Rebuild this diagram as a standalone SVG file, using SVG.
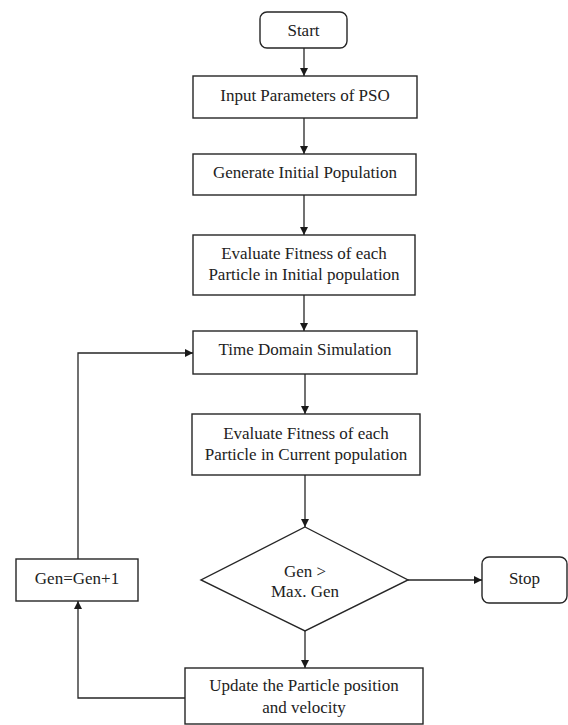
<svg xmlns="http://www.w3.org/2000/svg" width="568" height="725" viewBox="0 0 568 725">
<style>
.box{fill:#fff;stroke:#262626;stroke-width:1.4}
.ln{fill:none;stroke:#262626;stroke-width:1.3}
text{font-family:'Liberation Serif',serif;font-size:17px;fill:#222;text-anchor:middle}
</style>
<defs>
<marker id="ah" viewBox="0 0 10 10" refX="10" refY="5" markerWidth="8" markerHeight="8" markerUnits="userSpaceOnUse" orient="auto">
<path d="M0,0 L10,5 L0,10 z" fill="#1a1a1a"/>
</marker>
</defs>
<rect width="568" height="725" fill="#fff"/>
<g id="start"><rect class="box" x="260" y="12" width="87" height="36" rx="7"/><text x="303.5" y="36">Start</text></g>
<g id="input"><rect class="box" x="193" y="76" width="224" height="42"/><text x="305" y="101">Input Parameters of PSO</text></g>
<g id="generate"><rect class="box" x="193" y="154" width="223" height="41"/><text x="305" y="178">Generate Initial Population</text></g>
<g id="evalInit"><rect class="box" x="193" y="235" width="222" height="60"/><text x="304" y="259">Evaluate Fitness of each</text><text x="304" y="280">Particle in Initial population</text></g>
<g id="timeDomain"><rect class="box" x="193" y="331" width="224" height="43"/><text x="305" y="355">Time Domain Simulation</text></g>
<g id="evalCur"><rect class="box" x="192" y="414" width="228" height="61"/><text x="306" y="439">Evaluate Fitness of each</text><text x="306" y="460">Particle in Current population</text></g>
<g id="decision"><polygon class="box" points="305,527 408,580 305,631 201,580"/><text x="305" y="577">Gen &gt;</text><text x="305" y="597">Max. Gen</text></g>
<g id="stop"><rect class="box" x="482" y="557" width="85" height="46" rx="7"/><text x="524.5" y="584">Stop</text></g>
<g id="genInc"><rect class="box" x="16" y="559" width="122" height="42"/><text x="77" y="584">Gen=Gen+1</text></g>
<g id="update"><rect class="box" x="185" y="668" width="238" height="56"/><text x="304" y="691">Update the Particle position</text><text x="304" y="713">and velocity</text></g>
<g id="connectors">
<path class="ln" d="M304,48 V76" marker-end="url(#ah)"/>
<path class="ln" d="M304,118 V154" marker-end="url(#ah)"/>
<path class="ln" d="M304,195 V235" marker-end="url(#ah)"/>
<path class="ln" d="M304,295 V331" marker-end="url(#ah)"/>
<path class="ln" d="M305,374 V414" marker-end="url(#ah)"/>
<path class="ln" d="M305,475 V527" marker-end="url(#ah)"/>
<path class="ln" d="M305,631 V668" marker-end="url(#ah)"/>
<path class="ln" d="M408,580 H482" marker-end="url(#ah)"/>
<path class="ln" d="M185,698 H78 V601" marker-end="url(#ah)"/>
<path class="ln" d="M78,559 V353 H193" marker-end="url(#ah)"/>
</g>
</svg>
